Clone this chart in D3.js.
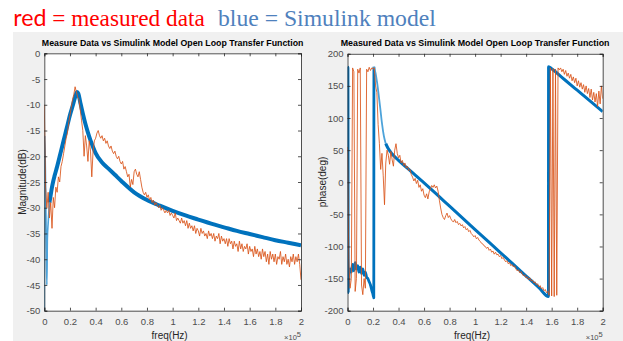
<!DOCTYPE html>
<html lang="en">
<head>
<meta charset="UTF-8" />
<title>Measured vs Simulink model</title>
<script src="https://d3js.org/d3.v7.min.js"></script>
<style>
    body { margin: 0; background: #fff; }
    svg { display: block; }
    .tick text { font-family: "Liberation Sans Narrow", "Liberation Sans", Arial, sans-serif; fill: #4d4d4d; }
    .domain, .tick line { stroke: #262626; stroke-width: 0.8; }
</style>
</head>
<body>
<svg id="chart" width="623" height="341"></svg>
<script>
    // frequency axis is in units of 1e5 Hz (matches the x10^5 axis note)
    const xTicks = [0, 0.2, 0.4, 0.6, 0.8, 1, 1.2, 1.4, 1.6, 1.8, 2];
    const magTicks = [0, -5, -10, -15, -20, -25, -30, -35, -40, -45, -50];
    const phaseTicks = [200, 150, 100, 50, 0, -50, -100, -150, -200];

    // measured sweep: 201 points, 0 .. 2e5 Hz
    const measFreq = d3.range(201).map(i => i / 100);

    const measMag = [
        -10, -26, -30, -27, -32, -29, -34, -28, -30, -26,
        -27, -24, -25, -22, -21, -19.5, -18, -16.5, -15.5, -13.5,
        -12, -10.5, -9, -8, -6.5, -7.5, -8.5, -9, -11, -13,
        -15, -20, -16, -18, -21, -17, -19, -24, -19, -17,
        -16.5, -15.5, -15, -16, -16.5, -16, -17, -16.5, -17.5, -17,
        -18, -18.5, -18, -19, -19.5, -19, -20, -20.5, -20, -21,
        -21.5, -21, -22.5, -22, -23, -24, -23.5, -26, -24.5, -25.5,
        -23, -22.5, -23.5, -24, -23, -24.5, -26, -27, -27.5, -27,
        -28, -27.5, -28.5, -28, -29, -28.5, -29.5, -29, -29.5, -30,
        -29.5, -30.5, -30, -30.5, -31, -30.5, -31, -30.5, -31.5, -31,
        -31.5, -32, -31, -32.5, -32, -32.5, -33, -32, -33, -32.5,
        -33.5, -32.5, -34, -33, -34, -33.5, -34.5, -33.5, -35, -34,
        -34.5, -35.5, -34, -35, -34.5, -35.5, -35, -36, -34.5, -35.5,
        -35, -36, -35, -36.5, -35.5, -36, -35, -37, -35.5, -36.5,
        -36, -37, -36, -37.5, -36, -37, -36.5, -38, -36.5, -37.5,
        -37, -38.5, -36.5, -38, -37, -38.5, -37.5, -38, -37, -39,
        -37.5, -38.5, -38, -39.5, -37.5, -39, -38, -39.5, -38.5, -40,
        -38, -39.5, -38.5, -40.5, -39, -41, -38.5, -40, -39, -40.5,
        -39, -41, -39.5, -40, -38.5, -41, -39.5, -40.5, -39, -41,
        -40, -41.5, -39.5, -40.5, -39, -41, -39.5, -40.5, -39, -41,
        -44
    ];

    const measPhase = [
        55, -120, -165, -150, 178, 172, -170, -150, 176, 170,
        178, -160, -175, -150, -165, 176, 172, 179, 174, 178,
        177, 178, 150, 140, 90, 60, 20, 45, 10, -35,
        30, 50, 42, 28, 48, 35, 25, 50, 60, 45,
        38, 42, 30, 34, 26, 30, 22, 25, 18, 20,
        12, 8, 2, 6, -2, 3, -8, -4, -14, -10,
        -20, -24, -18, -26, -15, -10, -5, -8, -4, -9,
        -6, -14, -28, -40, -50, -55, -58, -52, -48, -55,
        -52, -57, -60, -62, -58, -63, -61, -66, -64, -68,
        -66, -71, -69, -74, -72, -77, -75, -80, -82, -85,
        -83, -88, -86, -90, -92, -95, -96, -99, -100, -103,
        -101, -106, -104, -109, -107, -112, -109, -113, -112, -116,
        -114, -119, -117, -121, -124, -122, -127, -125, -130, -128,
        -132, -130, -135, -138, -136, -141, -139, -143, -146, -144,
        -149, -147, -152, -149, -154, -152, -157, -155, -160, -158,
        -163, -161, -166, -164, -169, -167, -172, -170, -176, 178,
        -177, 177, -178, 176, -176, 178, 175, 178, 172, 176,
        168, 174, 165, 170, 162, 168, 158, 164, 155, 162,
        150, 158, 148, 155, 145, 152, 140, 150, 138, 146,
        132, 145, 128, 140, 125, 138, 118, 142, 122, 150,
        130
    ];

    // Simulink model response
    const modelMagFreq = [0, 0.003, 0.008, 0.012, 0.016, 0.02, 0.024, 0.03, 0.035, 0.04,
        0.05, 0.06, 0.07, 0.08, 0.10, 0.12, 0.14, 0.16, 0.18, 0.20, 0.22, 0.24,
        0.255, 0.265, 0.28, 0.30, 0.32, 0.34, 0.36, 0.38, 0.40, 0.45, 0.50, 0.55, 0.60,
        0.70, 0.80, 0.90, 1.00, 1.10, 1.20, 1.30, 1.40, 1.50, 1.60, 1.70, 1.80, 1.90, 2.00];
    const modelMag = [-50, -16, -22, -30, -38, -45, -36, -33, -31, -29,
        -27.5, -26, -24.8, -23.8, -22, -20, -18, -16, -14, -12, -10.3, -8.5,
        -7.5, -7.8, -9.5, -11.7, -13.7, -15.4, -16.9, -18.2, -19.4, -21.2, -22.4, -23.6, -24.8,
        -27, -28.5, -29.6, -30.6, -31.5, -32.3, -33.1, -33.8, -34.5, -35.1, -35.7, -36.3, -36.8, -37.3];

    const modelPhaseFreq = [0, 0.004, 0.006, 0.01, 0.02, 0.03, 0.04, 0.05, 0.06, 0.07,
        0.08, 0.09, 0.10, 0.11, 0.12, 0.13, 0.14, 0.15, 0.16, 0.17, 0.18, 0.19, 0.20,
        0.206, 0.207, 0.22, 0.232, 0.245, 0.258, 0.27, 0.285, 0.30, 0.32, 0.35, 0.40,
        0.50, 0.60, 0.70, 0.80, 0.90, 1.00, 1.10, 1.20, 1.30, 1.40, 1.50,
        1.575, 1.576, 1.60, 1.70, 1.80, 1.90, 2.00];
    const modelPhase = [180, 178, -172, -150, -135, -140, -128, -138, -125, -135,
        -130, -140, -132, -142, -135, -145, -140, -148, -150, -155, -160, -168, -175,
        -180, 180, 170, 155, 135, 113, 92, 72, 60, 52, 44, 34,
        16.5, -1, -19, -37.3, -55.5, -73.6, -91.7, -109.8, -128, -146, -164,
        -178, 180, 176.7, 160, 143.3, 126.6, 110];

    const BLUE = "#0072BD", LIGHTBLUE = "#4da3da", ORANGE = "#D95319";
    const svg = d3.select("#chart");

    // fit a text to a given span by adjusting its font size
    function fitWidth(sel, width) {
        const fs = +sel.attr("font-size");
        const w = sel.node().getComputedTextLength();
        sel.attr("font-size", fs * width / w);
    }

    // header
    const head = svg.append("text").attr("x", 13.3).attr("y", 26).attr("font-size", 23.5)
        .attr("font-family", "'Liberation Serif', 'Times New Roman', serif").attr("fill", "#ff0000");
    head.append("tspan").attr("font-family", "Lato, 'Open Sans', sans-serif").text("red");
    head.append("tspan").text(" = measured data");
    fitWidth(head, 191.5);
    const head2 = svg.append("text").attr("x", 218).attr("y", 26).attr("font-size", 23.5)
        .attr("font-family", "'Liberation Serif', 'Times New Roman', serif")
        .attr("fill", "#4f81bd").text("blue = Simulink model");
    fitWidth(head2, 218);

    // matlab figure background
    svg.append("rect").attr("x", 13).attr("y", 32).attr("width", 610).attr("height", 309).attr("fill", "#f0f0f0");

    function panel(o) {
        const x = d3.scaleLinear().domain([0, 2]).range([o.left, o.right]);
        const y = d3.scaleLinear().domain(o.yDomain).range([o.bottom, o.top]);
        const g = svg.append("g");

        g.append("rect").attr("x", o.left).attr("y", o.top)
            .attr("width", o.right - o.left).attr("height", o.bottom - o.top).attr("fill", "#fff");

        const clipId = "clip" + o.id;
        g.append("clipPath").attr("id", clipId).append("rect")
            .attr("x", o.left).attr("y", o.top).attr("width", o.right - o.left).attr("height", o.bottom - o.top);

        const plot = g.append("g").attr("clip-path", `url(#${clipId})`);
        const line = d3.line().x(d => x(d[0])).y(d => y(d[1]));
        const smooth = d3.line().x(d => x(d[0])).y(d => y(d[1])).curve(d3.curveMonotoneX);

        // model drawn in pieces: steep sections come out thinner and lighter
        const model = d3.zip(o.modelF, o.modelV);
        o.segments.forEach(([a, b, w]) => {
            plot.append("path").datum(model.slice(a, b + 1))
                .attr("d", smooth).attr("fill", "none")
                .attr("stroke", w < 2.5 ? LIGHTBLUE : BLUE)
                .attr("stroke-width", w).attr("stroke-linejoin", "round");
        });
        plot.append("path").datum(d3.zip(measFreq, o.meas))
            .attr("d", line).attr("fill", "none").attr("stroke", ORANGE)
            .attr("stroke-width", 1).attr("stroke-opacity", 0.85).attr("stroke-linejoin", "round");

        const fmt = v => String(v);
        g.append("g").attr("transform", `translate(0,${o.bottom})`)
            .call(d3.axisBottom(x).tickValues(xTicks).tickFormat(fmt).tickSize(-3).tickPadding(8))
            .call(a => a.selectAll("text").attr("font-size", 9.5));
        g.append("g").attr("transform", `translate(0,${o.top})`)
            .call(d3.axisTop(x).tickValues(xTicks).tickFormat("").tickSize(-3));
        g.append("g").attr("transform", `translate(${o.left},0)`)
            .call(d3.axisLeft(y).tickValues(o.yTicks).tickFormat(fmt).tickSize(-3).tickPadding(4))
            .call(a => a.selectAll("text").attr("font-size", 9.5));
        g.append("g").attr("transform", `translate(${o.right},0)`)
            .call(d3.axisRight(y).tickValues(o.yTicks).tickFormat("").tickSize(-3));

        const cx = (o.left + o.right) / 2;
        const title = g.append("text").attr("x", cx).attr("y", 46.5).attr("text-anchor", "middle")
            .attr("font-family", "'Liberation Sans Narrow', 'Liberation Sans', Arial, sans-serif")
            .attr("font-weight", "bold").attr("font-size", 9.5).attr("fill", "#000")
            .text(o.title);
        // squeeze horizontally to the reference width, keeping glyph height
        const sx = o.titleWidth / title.node().getComputedTextLength();
        title.attr("transform", `translate(${cx},0) scale(${sx},1) translate(${-cx},0)`);

        g.append("text").attr("transform", `translate(${o.ylabelX},182) rotate(-90)`)
            .attr("text-anchor", "middle").attr("font-family", "'Liberation Sans', Arial, sans-serif")
            .attr("font-size", 10).attr("fill", "#262626").text(o.ylabel);

        g.append("text").attr("x", cx - 3).attr("y", 339).attr("text-anchor", "middle")
            .attr("font-family", "'Liberation Sans', Arial, sans-serif")
            .attr("font-size", 10).attr("fill", "#262626").text("freq(Hz)");

        const ex = g.append("text").attr("x", o.right).attr("y", 340).attr("text-anchor", "end")
            .attr("font-family", "'Liberation Sans', Arial, sans-serif").attr("fill", "#4d4d4d").attr("font-size", 7.5);
        ex.append("tspan").text("\u00d710");
        ex.append("tspan").attr("dy", -3.5).text("5");
    }

    panel({
        id: "mag", left: 44.3, right: 301, top: 53.3, bottom: 310.7,
        yDomain: [-50, 0], yTicks: magTicks, modelF: modelMagFreq, modelV: modelMag,
        meas: measMag, segments: [[0, 9, 1.6], [9, 48, 4]],
        title: "Measure Data vs Simulink Model Open Loop Transfer Function", titleWidth: 262,
        ylabel: "Magnitude(dB)", ylabelX: 26
    });

    panel({
        id: "phase", left: 347.5, right: 602.7, top: 53.8, bottom: 310.7,
        yDomain: [-200, 200], yTicks: phaseTicks, modelF: modelPhaseFreq, modelV: modelPhase,
        meas: measPhase, segments: [[0, 24, 2.8], [24, 31, 1.8], [31, 52, 3]],
        title: "Measured Data vs Simulink Model Open Loop Transfer Function", titleWidth: 269,
        ylabel: "phase(deg)", ylabelX: 326
    });
</script>
</body>
</html>
